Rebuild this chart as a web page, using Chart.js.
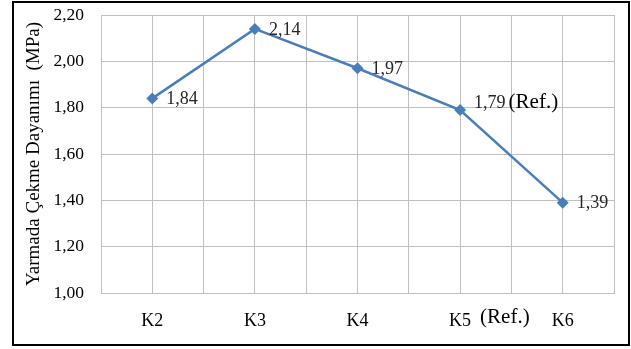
<!DOCTYPE html>
<html>
<head>
<meta charset="utf-8">
<script src="https://cdn.jsdelivr.net/npm/chart.js@4/dist/chart.umd.min.js"></script>
<style>
  html, body { margin: 0; padding: 0; background: #fff; }
  #wrap { width: 631px; height: 349px; }
</style>
</head>
<body>
<div id="wrap"><canvas id="c" width="631" height="349"></canvas></div>
<script>
// Splitting tensile strength per mix
const categories = ['K2', 'K3', 'K4', 'K5', 'K6'];
const strength = [1.84, 2.14, 1.97, 1.79, 1.39];
const referenceIndex = 3;
const referenceNote = '(Ref.)';
const yTitle = 'Yarmada Çekme Dayanımı  (MPa)';

const SERIF = '"Liberation Serif", "Times New Roman", serif';
const GRID = '#c0c0c0';
const LINE = '#4a7ebb';

const fmt = v => Number(v).toFixed(2).replace('.', ',');

// Frame, value labels and the reference markers
const decor = {
  id: 'decor',
  beforeDraw(chart) {
    const ctx = chart.ctx;
    ctx.save();
    ctx.fillStyle = '#fff';
    ctx.fillRect(0, 0, chart.width, chart.height);
    ctx.strokeStyle = '#000';
    ctx.lineWidth = 2;
    ctx.strokeRect(13, 2, 616, 343);
    ctx.restore();
  },
  afterDatasetsDraw(chart) {
    const ctx = chart.ctx;
    const meta = chart.getDatasetMeta(0);
    ctx.save();
    ctx.textBaseline = 'middle';
    ctx.textAlign = 'left';
    meta.data.forEach((pt, i) => {
      const txt = fmt(strength[i]);
      const isRef = i === referenceIndex;
      const y = isRef ? pt.y - 7 : pt.y + 1;
      ctx.font = '18px ' + SERIF;
      ctx.fillStyle = '#262626';
      ctx.fillText(txt, pt.x + 14, y);
      if (isRef) {
        const w = ctx.measureText(txt).width;
        ctx.font = '21px ' + SERIF;
        ctx.fillStyle = '#000';
        ctx.fillText(referenceNote, pt.x + 14 + w + 3, y);
      }
    });
    // note beside the reference category on the x axis
    const xs = chart.scales.x;
    ctx.font = '21px ' + SERIF;
    ctx.fillStyle = '#000';
    ctx.fillText(referenceNote, xs.getPixelForValue(referenceIndex) + 20, 317);
    ctx.restore();
  }
};

new Chart(document.getElementById('c'), {
  type: 'line',
  data: {
    labels: categories,
    datasets: [{
      data: strength,
      borderColor: LINE,
      backgroundColor: LINE,
      borderWidth: 2.5,
      pointStyle: 'rectRot',
      pointRadius: 6,
      pointBorderWidth: 0,
      tension: 0,
      fill: false
    }]
  },
  options: {
    responsive: false,
    animation: false,
    devicePixelRatio: 1,
    layout: { padding: { left: 14, top: 15, right: 17, bottom: 0 } },
    plugins: { legend: { display: false }, tooltip: { enabled: false } },
    scales: {
      x: {
        type: 'category',
        position: 'bottom',
        offset: true,
        grid: { offset: false, color: GRID, drawTicks: false },
        border: { color: GRID },
        ticks: { color: '#000', font: { family: SERIF, size: 18 }, padding: 17, maxRotation: 0 },
        afterFit(s) { s.height = 56; }
      },
      x2: {
        type: 'category',
        position: 'bottom',
        offset: true,
        grid: { offset: true, color: GRID, drawTicks: false },
        border: { display: false },
        ticks: { display: false },
        afterFit(s) { s.height = 0; }
      },
      y: {
        min: 1.0,
        max: 2.2,
        grid: { color: GRID, drawTicks: false },
        border: { color: GRID },
        ticks: {
          stepSize: 0.2,
          color: '#000',
          padding: 17,
          font: { family: SERIF, size: 17.5 },
          callback: v => fmt(v)
        },
        title: {
          display: true,
          text: yTitle,
          color: '#000',
          font: { family: SERIF, size: 19 },
          padding: { top: 9, bottom: 0 }
        },
        afterFit(s) { s.width = 87; s.paddingTop = 0; s.paddingBottom = 0; }
      }
    }
  },
  plugins: [decor]
});
</script>
</body>
</html>
